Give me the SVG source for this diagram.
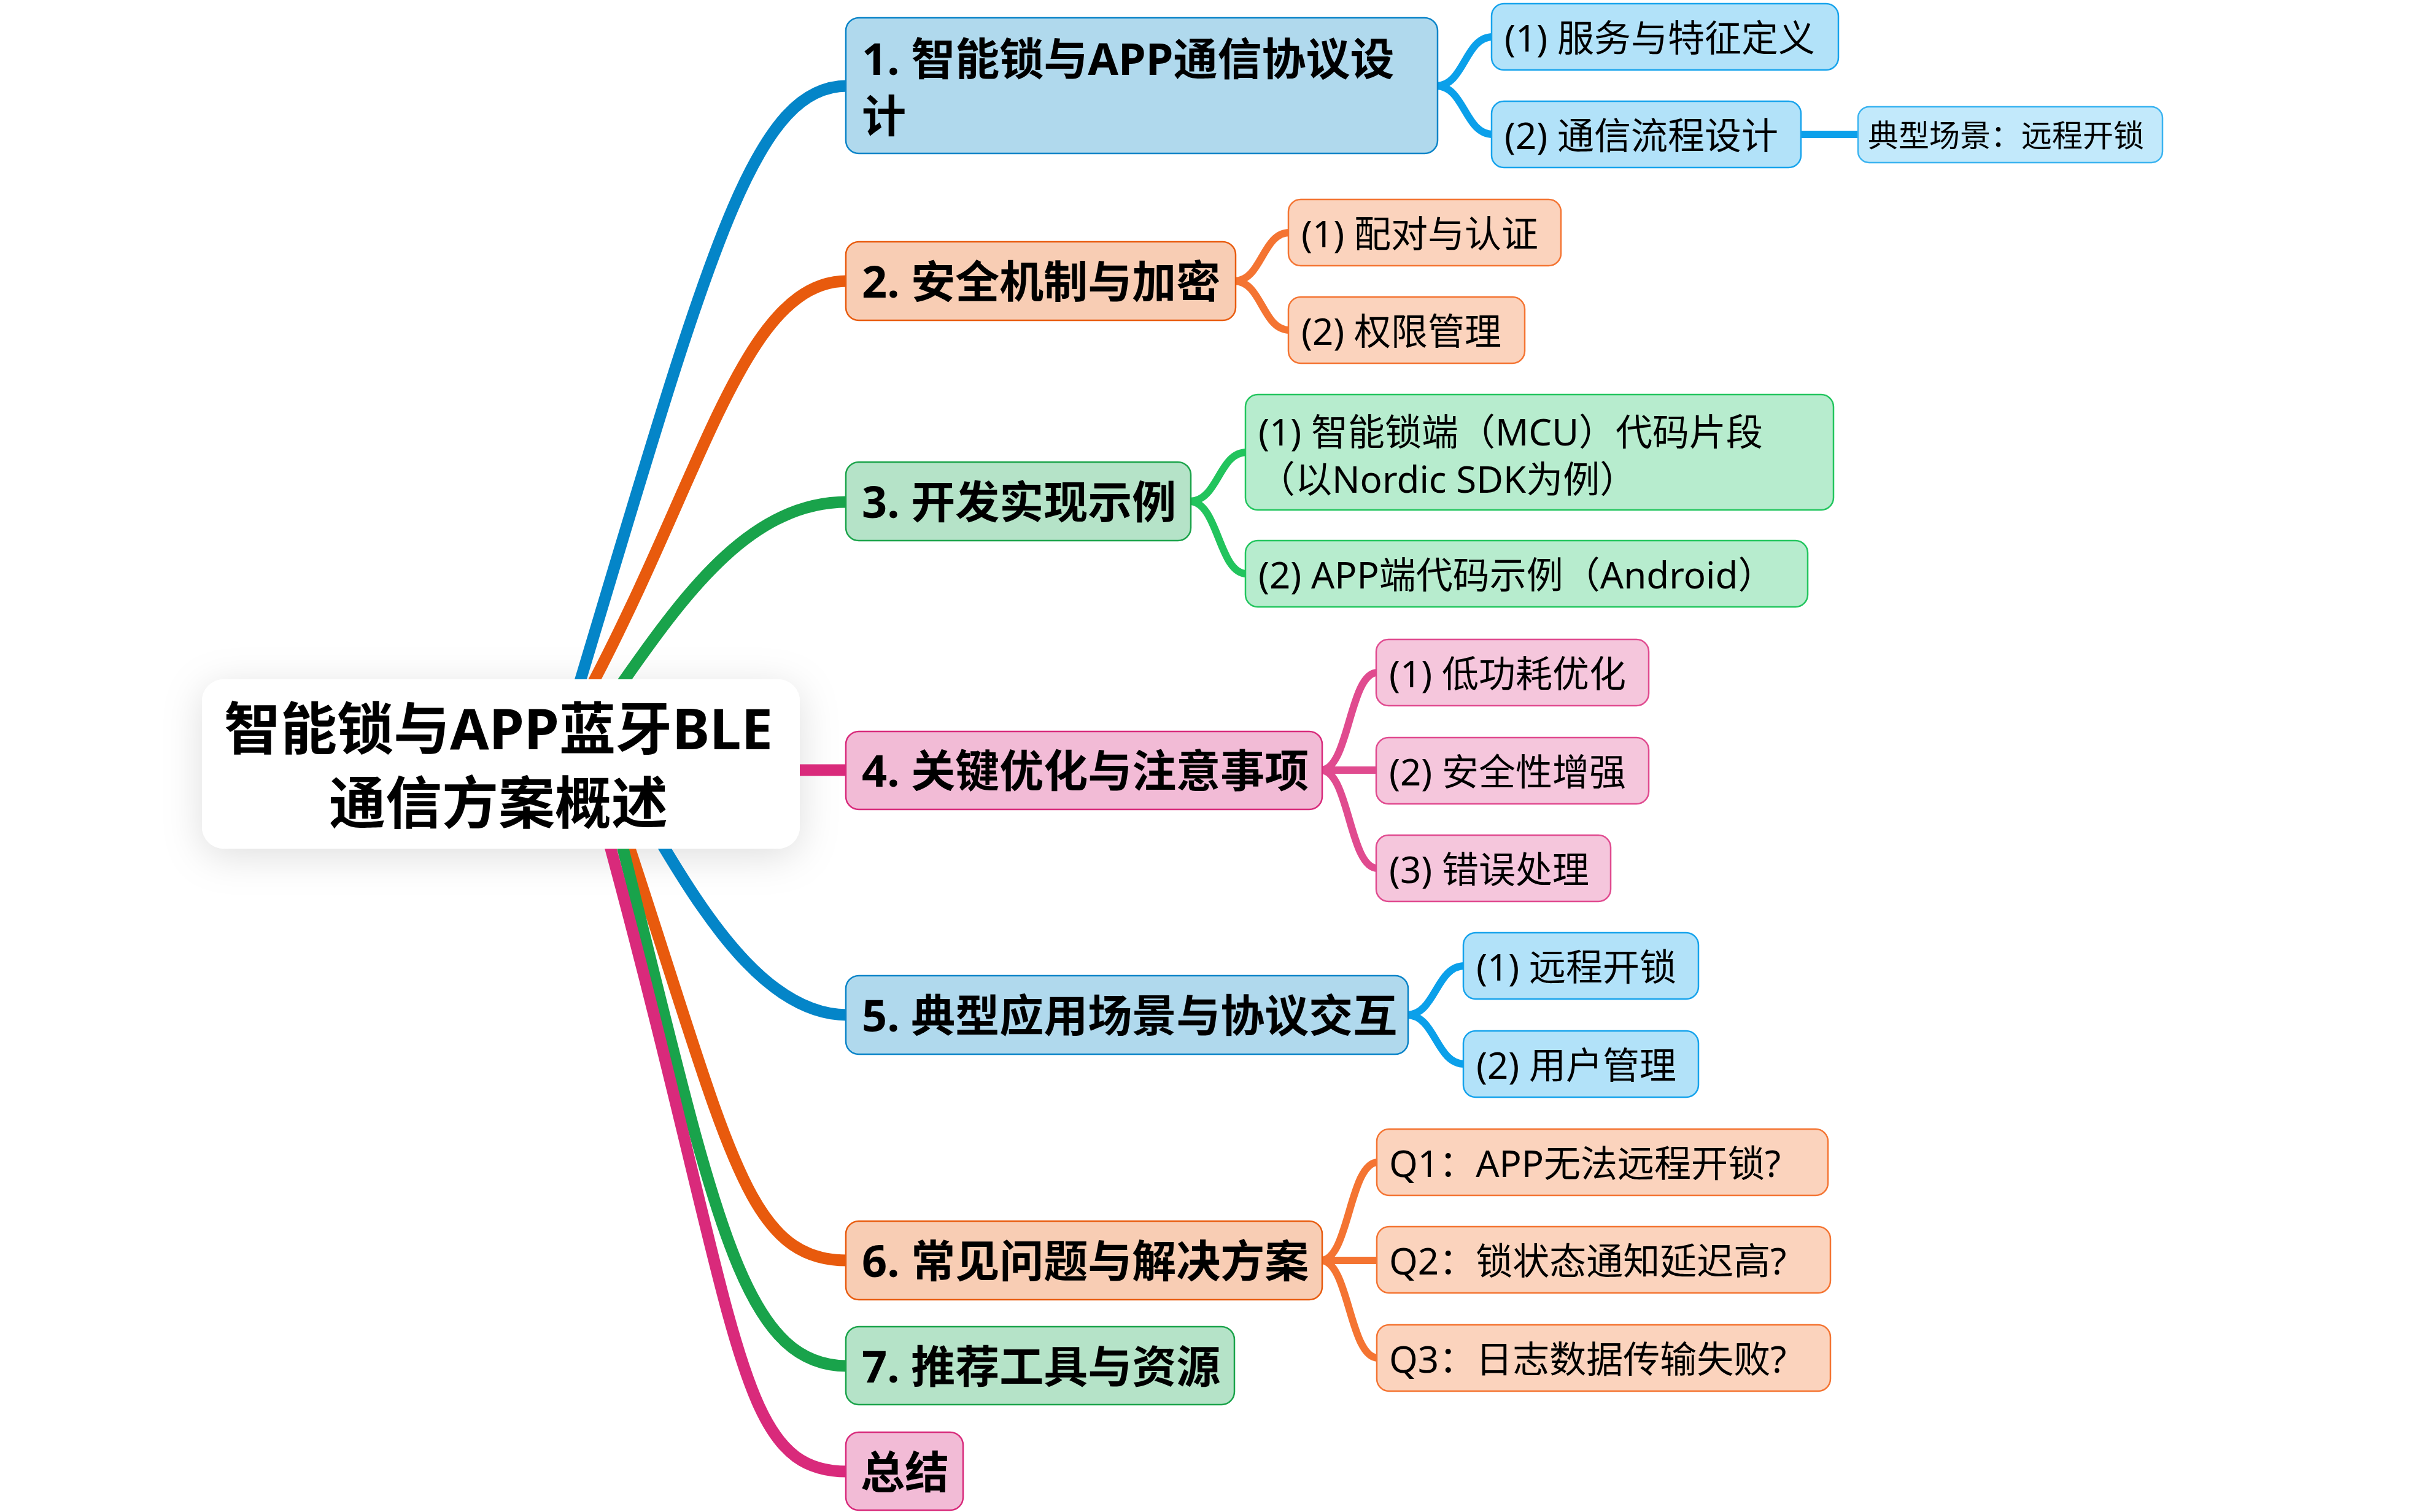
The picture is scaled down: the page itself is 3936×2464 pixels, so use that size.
<svg xmlns="http://www.w3.org/2000/svg" width="3936" height="2464" viewBox="0 0 3936 2464">
<defs>
<filter id="sh" x="-20%" y="-60%" width="140%" height="220%">
<feDropShadow dx="0" dy="12" stdDeviation="32" flood-color="#000" flood-opacity="0.13"/>
</filter>
</defs>
<style>
text{font-family:"Noto Sans","Noto Sans CJK SC",sans-serif;fill:#000}
.t0{font-size:92px;font-weight:700;text-anchor:middle}
.t1{font-size:72px;font-weight:700}
.t2{font-size:60px}
.t3{font-size:50px}
.c{fill:none;stroke-linecap:butt}
.m{stroke-width:19}
.s{stroke-width:12}
.b1{fill:#b0d9ed;stroke:#0a84c8;stroke-width:2.5}
.b2{fill:#b2e2f9;stroke:#16a3ec;stroke-width:2.5}
.b3{fill:#c2e9fb;stroke:#3ab3f0;stroke-width:2.5}
.o1{fill:#f8cdb4;stroke:#e85b0e;stroke-width:2.5}
.o2{fill:#fbd3bd;stroke:#f47432;stroke-width:2.5}
.g1{fill:#b5e3c8;stroke:#1aa34a;stroke-width:2.5}
.g2{fill:#b7ecce;stroke:#22c55e;stroke-width:2.5}
.p1{fill:#f2bbd6;stroke:#d82a7b;stroke-width:2.5}
.p2{fill:#f5c6dc;stroke:#e04a8f;stroke-width:2.5}
</style>
<rect x="329" y="1107" width="974" height="276" rx="36" fill="#fff" filter="url(#sh)"/>
<g id="connectors">
<path class="c m" stroke="#0485c8" d="M925 1177 L946 1107 C1156 407 1228 140 1380 140"/>
<path class="c m" stroke="#e85a0d" d="M933 1177 L969 1107 C1150 760 1215 458 1380 458"/>
<path class="c m" stroke="#19a34b" d="M969 1177 L1018 1107 C1123 957 1228 818 1380 818"/>
<path class="c m" stroke="#d92a7b" d="M1290 1255 L1380 1255"/>
<path class="c m" stroke="#0485c8" d="M1041 1313 L1083 1383 C1161 1513 1258 1654 1380 1654"/>
<path class="c m" stroke="#e85a0d" d="M1003 1313 L1026 1383 C1191 1883 1218 2054 1380 2054"/>
<path class="c m" stroke="#19a34b" d="M998 1313 L1015 1383 C1165 1983 1208 2226 1380 2226"/>
<path class="c m" stroke="#d92a7b" d="M976 1313 L995 1383 C1211 2184 1198 2398 1380 2398"/>
<path class="c s" stroke="#0ba0ea" d="M2340 140 C2386 140 2386 60 2432 60 M2340 140 C2386 140 2386 219 2432 219 M2932 219 L3029 219"/>
<path class="c s" stroke="#f47432" d="M2011 458 C2056 458 2056 379 2101 379 M2011 458 C2056 458 2056 538 2101 538"/>
<path class="c s" stroke="#22c45d" d="M1938 817 C1985 817 1985 737 2031 737 M1938 817 C1985 817 1985 935 2031 935"/>
<path class="c s" stroke="#e04b8f" d="M2152 1255 C2198 1255 2198 1096 2244 1096 M2152 1255 L2244 1255 M2152 1255 C2198 1255 2198 1415 2244 1415"/>
<path class="c s" stroke="#0ba0ea" d="M2292 1654 C2339 1654 2339 1574 2386 1574 M2292 1654 C2339 1654 2339 1734 2386 1734"/>
<path class="c s" stroke="#f47432" d="M2152 2054 C2198 2054 2198 1894 2245 1894 M2152 2054 L2245 2054 M2152 2054 C2198 2054 2198 2213 2245 2213"/>
</g>
<g id="root">
<rect x="329" y="1107" width="974" height="276" rx="36" fill="#fff"/>
<text class="t0" x="812" y="1221">智能锁与APP蓝牙BLE</text>
<text class="t0" x="812" y="1342">通信方案概述</text>
</g>
<g id="n1"><rect class="b1" x="1378" y="29" width="964" height="221" rx="21"/><text class="t1" x="1404" y="122">1. 智能锁与APP通信协议设</text><text class="t1" x="1404" y="215">计</text></g>
<g id="n1-1"><rect class="b2" x="2430" y="6" width="565" height="108" rx="20"/><text class="t2" x="2451" y="84">(1) 服务与特征定义</text></g>
<g id="n1-2"><rect class="b2" x="2430" y="165" width="504" height="108" rx="20"/><text class="t2" x="2451" y="243">(2) 通信流程设计</text></g>
<g id="n1-2-1"><rect class="b3" x="3027" y="174" width="496" height="91" rx="18"/><text class="t3" x="3043" y="239">典型场景：远程开锁</text></g>
<g id="n2"><rect class="o1" x="1378" y="394" width="635" height="128" rx="21"/><text class="t1" x="1404" y="485">2. 安全机制与加密</text></g>
<g id="n2-1"><rect class="o2" x="2099" y="325" width="444" height="108" rx="20"/><text class="t2" x="2120" y="403">(1) 配对与认证</text></g>
<g id="n2-2"><rect class="o2" x="2099" y="484" width="385" height="108" rx="20"/><text class="t2" x="2120" y="562">(2) 权限管理</text></g>
<g id="n3"><rect class="g1" x="1378" y="753" width="562" height="128" rx="21"/><text class="t1" x="1404" y="844">3. 开发实现示例</text></g>
<g id="n3-1"><rect class="g2" x="2029" y="643" width="958" height="188" rx="20"/><text class="t2" x="2050" y="726">(1) 智能锁端（MCU）代码片段</text><text class="t2" x="2050" y="803">（以Nordic SDK为例）</text></g>
<g id="n3-2"><rect class="g2" x="2029" y="881" width="916" height="108" rx="20"/><text class="t2" x="2050" y="959">(2) APP端代码示例（Android）</text></g>
<g id="n4"><rect class="p1" x="1378" y="1192" width="776" height="127" rx="21"/><text class="t1" x="1404" y="1282">4. 关键优化与注意事项</text></g>
<g id="n4-1"><rect class="p2" x="2242" y="1042" width="444" height="108" rx="20"/><text class="t2" x="2263" y="1120">(1) 低功耗优化</text></g>
<g id="n4-2"><rect class="p2" x="2242" y="1202" width="444" height="108" rx="20"/><text class="t2" x="2263" y="1280">(2) 安全性增强</text></g>
<g id="n4-3"><rect class="p2" x="2242" y="1361" width="382" height="108" rx="20"/><text class="t2" x="2263" y="1439">(3) 错误处理</text></g>
<g id="n5"><rect class="b1" x="1378" y="1590" width="916" height="128" rx="21"/><text class="t1" x="1404" y="1681">5. 典型应用场景与协议交互</text></g>
<g id="n5-1"><rect class="b2" x="2384" y="1520" width="383" height="108" rx="20"/><text class="t2" x="2405" y="1598">(1) 远程开锁</text></g>
<g id="n5-2"><rect class="b2" x="2384" y="1680" width="383" height="108" rx="20"/><text class="t2" x="2405" y="1758">(2) 用户管理</text></g>
<g id="n6"><rect class="o1" x="1378" y="1990" width="776" height="128" rx="21"/><text class="t1" x="1404" y="2081">6. 常见问题与解决方案</text></g>
<g id="n6-1"><rect class="o2" x="2243" y="1840" width="735" height="108" rx="20"/><text class="t2" x="2263" y="1918">Q1：APP无法远程开锁?</text></g>
<g id="n6-2"><rect class="o2" x="2243" y="1999" width="739" height="108" rx="20"/><text class="t2" x="2263" y="2077">Q2：锁状态通知延迟高?</text></g>
<g id="n6-3"><rect class="o2" x="2243" y="2159" width="739" height="108" rx="20"/><text class="t2" x="2263" y="2237">Q3：日志数据传输失败?</text></g>
<g id="n7"><rect class="g1" x="1378" y="2162" width="633" height="127" rx="21"/><text class="t1" x="1404" y="2253">7. 推荐工具与资源</text></g>
<g id="n8"><rect class="p1" x="1378" y="2334" width="191" height="127" rx="21"/><text class="t1" x="1402" y="2425">总结</text></g>
</svg>
